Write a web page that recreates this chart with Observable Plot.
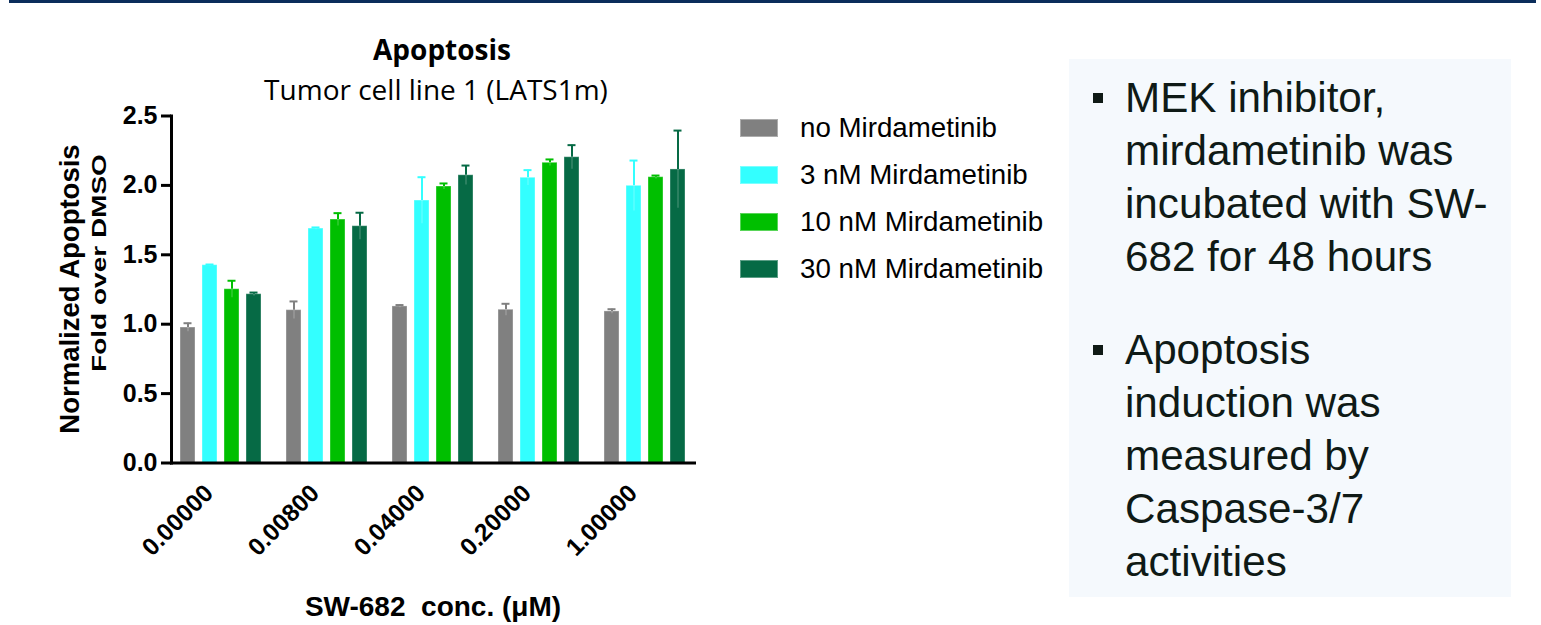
<!DOCTYPE html>
<html>
<head>
<meta charset="utf-8">
<script src="https://cdn.jsdelivr.net/npm/d3@7"></script>
<script src="https://cdn.jsdelivr.net/npm/@observablehq/plot@0.6"></script>
<style>
  html, body { margin: 0; padding: 0; background: #fff; width: 1541px; height: 625px; overflow: hidden; }
  body { position: relative; font-family: "Liberation Sans", Arial, sans-serif; color: #000; }
  #topbar { position: absolute; left: 9px; top: 0; width: 1527px; height: 3px; background: #0b2d5b; }
  #chart { position: absolute; left: 0; top: 0; }
  .abs { position: absolute; white-space: pre; }
  #title { left: 442px; top: 35px; transform: translateX(-50%); font-family: "Open Sans", sans-serif; font-weight: 700; font-size: 28px; line-height: 28px; }
  #subtitle { left: 436px; top: 75px; transform: translateX(-50%); font-family: "Open Sans", sans-serif; font-size: 28px; line-height: 28px; }
  #ylabel1 { left: 69px; top: 289px; transform: translate(-50%, -50%) rotate(-90deg); font-weight: 700; font-size: 27.5px; line-height: 27px; }
  #ylabel2 { left: 99px; top: 263px; transform: translate(-50%, -50%) rotate(-90deg) scaleX(1.4); font-weight: 700; font-size: 20px; line-height: 20px; }
  #xlabel { left: 433px; top: 593px; transform: translateX(-50%); font-weight: 700; font-size: 28px; line-height: 28px; }
  #legend { position: absolute; left: 740px; top: 104px; }
  .row { display: flex; align-items: center; height: 47px; }
  .swatch { width: 38px; height: 18px; box-shadow: inset 0 0 0 1px rgba(255,255,255,0.35); }
  .lab { margin-left: 22px; font-size: 27.7px; white-space: pre; }
  #notes { position: absolute; left: 1069px; top: 59px; width: 442px; height: 538px; background: #f5f9fd; }
  .para { position: absolute; left: 56px; font-size: 42.2px; line-height: 53px; color: #0f1a16; }
  .bullet { position: absolute; left: -32px; top: 22px; width: 10px; height: 10px; background: #0f1a16; }
</style>
</head>
<body>
<div id="topbar"></div>
<div id="chart"></div>
<div id="title" class="abs">Apoptosis</div>
<div id="subtitle" class="abs">Tumor cell line 1 (LATS1m)</div>
<div id="ylabel1" class="abs">Normalized Apoptosis</div>
<div id="ylabel2" class="abs">Fold over DMSO</div>
<div id="xlabel" class="abs">SW-682  conc. (μM)</div>
<div id="legend"></div>
<div id="notes">
  <div class="para" style="top: 12px;"><div class="bullet"></div>MEK inhibitor,<br>mirdametinib was<br>incubated with SW-<br>682 for 48 hours</div>
  <div class="para" style="top: 264px;"><div class="bullet"></div>Apoptosis<br>induction was<br>measured by<br>Caspase-3/7<br>activities</div>
</div>
<script>
// SW-682 concentrations (µM) on the x axis
const concentrations = ["0.00000", "0.00800", "0.04000", "0.20000", "1.00000"];
// Mirdametinib co-treatments
const treatments = ["no Mirdametinib", "3 nM Mirdametinib", "10 nM Mirdametinib", "30 nM Mirdametinib"];
const treatmentColors = ["#808080", "#33ffff", "#00bf00", "#066a45"];

// Normalized apoptosis (fold over DMSO), mean per concentration
const meanNone = [0.976, 1.101, 1.128, 1.104, 1.092];
const mean3nM  = [1.425, 1.689, 1.891, 2.055, 1.997];
const mean10nM = [1.252, 1.754, 1.992, 2.163, 2.059];
const mean30nM = [1.216, 1.706, 2.073, 2.203, 2.115];

// Error (SD) per concentration
const errNone = [0.031, 0.063, 0.010, 0.043, 0.016];
const err3nM  = [0.005, 0.008, 0.168, 0.055, 0.182];
const err10nM = [0.061, 0.046, 0.022, 0.024, 0.012];
const err30nM = [0.012, 0.097, 0.070, 0.087, 0.280];

const yTicks = [0, 0.5, 1.0, 1.5, 2.0, 2.5];

const means = [meanNone, mean3nM, mean10nM, mean30nM];
const errors = [errNone, err3nM, err10nM, err30nM];
const rows = treatments.flatMap((t, i) =>
  concentrations.map((c, j) => ({conc: c, treatment: t, mean: means[i][j], err: errors[i][j]}))
);

const chart = Plot.plot({
  width: 720,
  height: 625,
  marginLeft: 171,
  marginRight: 25,
  marginTop: 115.5,
  marginBottom: 162.5,
  style: {fontFamily: "'Liberation Sans', Arial, sans-serif", background: "transparent", overflow: "visible", color: "#000"},
  fx: {domain: concentrations, paddingInner: 0.0635, paddingOuter: 0},
  x: {domain: treatments, paddingInner: 0.321, paddingOuter: 0.34, axis: null},
  y: {domain: [0, 2.5]},
  color: {domain: treatments, range: treatmentColors},
  marks: [
    Plot.barY(rows, {fx: "conc", x: "treatment", y: "mean", fill: "treatment",
      stroke: "white", strokeOpacity: 0.35, strokeWidth: 1}),
    // lower half of the error bar, faint over the bar
    Plot.ruleX(rows, {fx: "conc", x: "treatment", y1: d => d.mean - d.err, y2: "mean",
      stroke: "white", strokeOpacity: 0.2, strokeWidth: 1.5}),
    // upper half of the error bar with its cap
    Plot.ruleX(rows, {fx: "conc", x: "treatment", y1: "mean", y2: d => d.mean + d.err,
      stroke: "treatment", strokeWidth: 2}),
    Plot.tickY(rows, {fx: "conc", x: "treatment", y: d => d.mean + d.err,
      stroke: "treatment", strokeWidth: 2, insetLeft: 3.5, insetRight: 3.5}),
    Plot.axisY({ticks: yTicks, tickFormat: d3.format(".1f"), tickSize: 10, tickPadding: 4,
      strokeWidth: 3, fontSize: 25, fontWeight: "bold", label: null}),
    Plot.axisFx({anchor: "bottom", tickRotate: -45, tickSize: 0, tickPadding: 26, dx: -12,
      fontSize: 24.5, fontWeight: "bold", label: null}),
    Plot.frame({anchor: "left", facet: "super", strokeWidth: 3}),
    Plot.frame({anchor: "bottom", facet: "super", strokeWidth: 3})
  ]
});
document.getElementById("chart").append(chart);

// legend built from the same treatment list and colours
const legend = d3.select("#legend");
treatments.forEach((t, i) => {
  const row = legend.append("div").attr("class", "row");
  row.append("div").attr("class", "swatch").style("background", treatmentColors[i]);
  row.append("div").attr("class", "lab").text(t);
});
</script>
</body>
</html>
